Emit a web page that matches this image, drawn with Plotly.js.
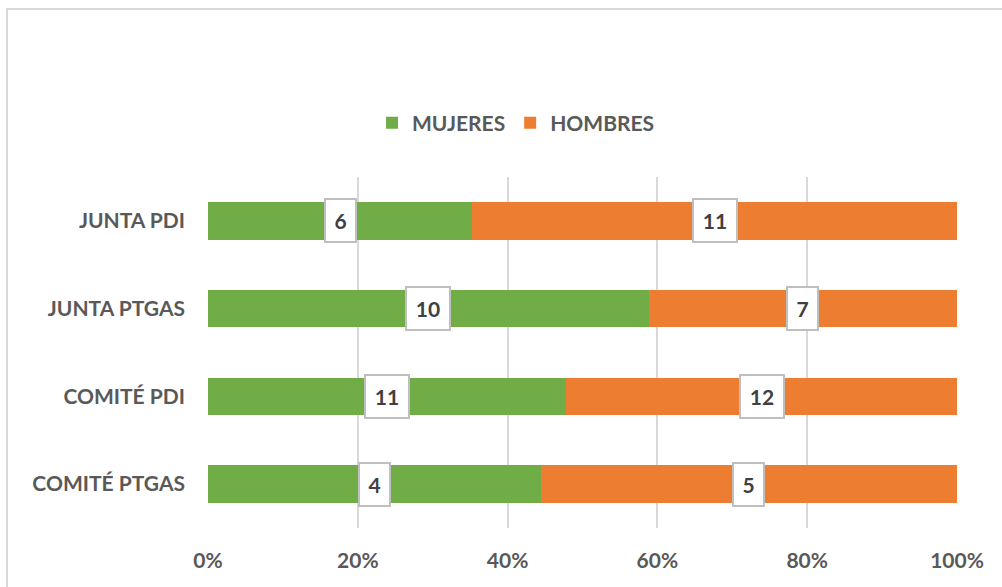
<!DOCTYPE html>
<html>
<head>
<meta charset="utf-8">
<script src="https://cdn.plot.ly/plotly-3.0.1.min.js"></script>
<style>
  html, body { margin: 0; padding: 0; background: #fff; }
  #wrap { position: relative; width: 1002px; height: 587px; overflow: hidden; }
  #chart { position: absolute; left: 0; top: 0; width: 1002px; height: 587px; }
  #frame { position: absolute; left: 6px; top: 8px; width: 1100px; height: 700px;
           border-left: 2px solid #d9d9d9; border-top: 2px solid #d9d9d9; pointer-events: none; }
</style>
</head>
<body>
<div id="wrap">
  <div id="chart"></div>
  <div id="frame"></div>
</div>
<script>
const categories = ["JUNTA PDI", "JUNTA PTGAS", "COMITÉ PDI", "COMITÉ PTGAS"];
const mujeres = [6, 10, 11, 4];
const hombres = [11, 7, 12, 5];
const seriesNames = ["MUJERES", "HOMBRES"];
const xTickVals = [0, 20, 40, 60, 80, 100];
const xTickText = ["0%", "20%", "40%", "60%", "80%", "100%"];

const FONT = "Lato, 'Open Sans', sans-serif";
const GREEN = "#70AD47", ORANGE = "#ED7D31", TXT = "#595959";
const FS = 21;

const traces = [
  { type: "bar", orientation: "h", name: seriesNames[0], y: categories, x: mujeres,
    marker: { color: GREEN }, hoverinfo: "none" },
  { type: "bar", orientation: "h", name: seriesNames[1], y: categories, x: hombres,
    marker: { color: ORANGE }, hoverinfo: "none" }
];

const annotations = [];
categories.forEach((c, i) => {
  const tot = mujeres[i] + hombres[i];
  const pm = mujeres[i] / tot * 100;
  const vals = [[mujeres[i], pm / 2], [hombres[i], pm + (100 - pm) / 2]];
  vals.forEach(([v, xm]) => {
    const s = String(v);
    annotations.push({
      x: xm, y: c, xref: "x", yref: "y", text: s, showarrow: false,
      font: { family: FONT, size: FS, color: "#404040", weight: "bold" },
      bgcolor: "#ffffff", bordercolor: "#bfbfbf", borderwidth: 2, borderpad: 3,
      width: s.length > 1 ? 36 : 23, height: 35, align: "center", valign: "middle"
    });
  });
});

const layout = {
  width: 1002, height: 587,
  margin: { l: 208, r: 45, t: 177, b: 59 },
  paper_bgcolor: "#ffffff", plot_bgcolor: "#ffffff",
  barmode: "stack", barnorm: "percent", bargap: 0.575,
  showlegend: true,
  legend: { orientation: "h", x: 0.515, xref: "container", xanchor: "center",
            y: 1 - 123 / 587, yref: "container", yanchor: "middle",
            font: { family: FONT, size: FS, color: TXT, weight: "bold" },
            traceorder: "normal" },
  xaxis: { range: [0, 100], tickvals: xTickVals, ticktext: xTickText, showgrid: true,
           gridcolor: "#d9d9d9", gridwidth: 2, zeroline: false, showline: false, fixedrange: true,
           tickfont: { family: FONT, size: FS, color: TXT, weight: "bold" }, ticks: "", ticklabelstandoff: 18 },
  yaxis: { type: "category", autorange: "reversed", showgrid: false, zeroline: false, showline: false,
           tickfont: { family: FONT, size: FS, color: TXT, weight: "bold" }, ticks: "", ticklabelstandoff: 22 },
  annotations: annotations,
  font: { family: FONT }
};

Plotly.newPlot("chart", traces, layout, { displayModeBar: false, staticPlot: true });
</script>
</body>
</html>
